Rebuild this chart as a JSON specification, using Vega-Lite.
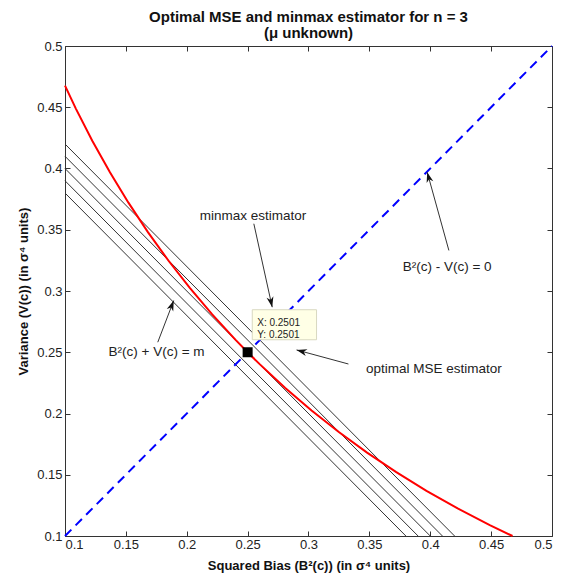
{
  "$schema": "https://vega.github.io/schema/vega-lite/v6.json",
  "width": 487,
  "height": 490,
  "autosize": {"type": "none"},
  "padding": {"left": 65, "top": 46, "right": 26, "bottom": 45},
  "background": "white",
  "title": {
    "text": ["Optimal MSE and minmax estimator for n = 3", "(μ unknown)"],
    "font": "Liberation Sans",
    "fontSize": 15,
    "fontWeight": "bold",
    "color": "#111",
    "anchor": "middle",
    "lineHeight": 16,
    "offset": -1
  },
  "config": {
    "view": {"stroke": "#333", "strokeWidth": 1},
    "axis": {
      "domain": false,
      "grid": false,
      "tickSize": -5,
      "tickColor": "#333",
      "labelFont": "Liberation Sans",
      "labelFontSize": 13,
      "labelColor": "#222",
      "titleFont": "Liberation Sans",
      "titleFontSize": 13,
      "titleFontWeight": "bold",
      "titleColor": "#111"
    }
  },
  "datasets": {
    "lines": [
      {"m": 0.48, "x": 0.1, "y": 0.38}, {"m": 0.48, "x": 0.38, "y": 0.1},
      {"m": 0.49, "x": 0.1, "y": 0.39}, {"m": 0.49, "x": 0.39, "y": 0.1},
      {"m": 0.5, "x": 0.1, "y": 0.4}, {"m": 0.5, "x": 0.4, "y": 0.1},
      {"m": 0.51, "x": 0.1, "y": 0.41}, {"m": 0.51, "x": 0.41, "y": 0.1},
      {"m": 0.52, "x": 0.1, "y": 0.42}, {"m": 0.52, "x": 0.42, "y": 0.1}
    ],
    "curve": [
      {"x": 0.1, "y": 0.4676}, {"x": 0.1089, "y": 0.4489}, {"x": 0.1225, "y": 0.4225},
      {"x": 0.1369, "y": 0.3969}, {"x": 0.1521, "y": 0.3721}, {"x": 0.1681, "y": 0.3481},
      {"x": 0.1849, "y": 0.3249}, {"x": 0.2025, "y": 0.3025}, {"x": 0.2209, "y": 0.2809},
      {"x": 0.2401, "y": 0.2601}, {"x": 0.25, "y": 0.25}, {"x": 0.2601, "y": 0.2401},
      {"x": 0.2809, "y": 0.2209}, {"x": 0.3025, "y": 0.2025}, {"x": 0.3249, "y": 0.1849},
      {"x": 0.3481, "y": 0.1681}, {"x": 0.3721, "y": 0.1521}, {"x": 0.3969, "y": 0.1369},
      {"x": 0.4225, "y": 0.1225}, {"x": 0.4489, "y": 0.1089}, {"x": 0.4676, "y": 0.1}
    ],
    "diag": [{"x": 0.1, "y": 0.1}, {"x": 0.5, "y": 0.5}],
    "arrows": [
      {"x": 0.2551, "y": 0.3549, "x2": 0.2702, "y2": 0.2868},
      {"x": 0.1762, "y": 0.2582, "x2": 0.1893, "y2": 0.2922},
      {"x": 0.4153, "y": 0.3331, "x2": 0.3975, "y2": 0.397},
      {"x": 0.3328, "y": 0.2404, "x2": 0.2902, "y2": 0.2519}
    ],
    "labels": [
      {"x": 0.2544, "y": 0.3616, "text": "minmax estimator"},
      {"x": 0.1752, "y": 0.2498, "text": "B²(c) + V(c) = m"},
      {"x": 0.4139, "y": 0.32, "text": "B²(c) - V(c) = 0"},
      {"x": 0.4029, "y": 0.2367, "text": "optimal MSE estimator"}
    ],
    "tipbox": [{"x": 0.2538, "x2": 0.3066, "y": 0.2847, "y2": 0.2602}],
    "tiptext": [
      {"x": 0.2579, "y": 0.2739, "text": "X: 0.2501"},
      {"x": 0.2579, "y": 0.2644, "text": "Y: 0.2501"}
    ],
    "point": [{"x": 0.25, "y": 0.25}]
  },
  "resolve": {"axis": {"x": "independent", "y": "independent"}},
  "layer": [
    {
      "data": {"name": "lines"},
      "mark": {"type": "line", "color": "#333", "strokeWidth": 1},
      "encoding": {
        "x": {"field": "x", "type": "quantitative", "scale": {"domain": [0.1, 0.5], "nice": false, "zero": false},
              "axis": {"orient": "bottom", "title": "Squared Bias (B²(c)) (in σ⁴ units)", "labelPadding": 7, "titlePadding": 8, "format": "~g",
                       "values": [0.1, 0.15, 0.2, 0.25, 0.3, 0.35, 0.4, 0.45, 0.5]}},
        "y": {"field": "y", "type": "quantitative", "scale": {"domain": [0.1, 0.5], "nice": false, "zero": false},
              "axis": {"orient": "left", "title": "Variance (V(c)) (in σ⁴ units)", "labelPadding": 8, "titlePadding": 6, "format": "~g",
                       "values": [0.1, 0.15, 0.2, 0.25, 0.3, 0.35, 0.4, 0.45, 0.5]}},
        "detail": {"field": "m", "type": "nominal"}
      }
    },
    {
      "data": {"name": "curve"},
      "mark": {"type": "line", "color": "#ff0000", "strokeWidth": 2},
      "encoding": {
        "x": {"field": "x", "type": "quantitative", "scale": {"domain": [0.1, 0.5], "nice": false, "zero": false}, "axis": null},
        "y": {"field": "y", "type": "quantitative", "scale": {"domain": [0.1, 0.5], "nice": false, "zero": false}, "axis": null}
      }
    },
    {
      "data": {"name": "diag"},
      "mark": {"type": "line", "color": "#0000ff", "strokeWidth": 2, "strokeDash": [9, 6]},
      "encoding": {
        "x": {"field": "x", "type": "quantitative", "scale": {"domain": [0.1, 0.5], "nice": false, "zero": false},
              "axis": {"orient": "top", "labels": false, "title": null, "values": [0.1, 0.15, 0.2, 0.25, 0.3, 0.35, 0.4, 0.45, 0.5]}},
        "y": {"field": "y", "type": "quantitative", "scale": {"domain": [0.1, 0.5], "nice": false, "zero": false},
              "axis": {"orient": "right", "labels": false, "title": null, "values": [0.1, 0.15, 0.2, 0.25, 0.3, 0.35, 0.4, 0.45, 0.5]}}
      }
    },
    {
      "data": {"name": "arrows"},
      "mark": {"type": "rule", "color": "#333", "strokeWidth": 1},
      "encoding": {
        "x": {"field": "x", "type": "quantitative", "scale": {"domain": [0.1, 0.5], "nice": false, "zero": false}, "axis": null},
        "y": {"field": "y", "type": "quantitative", "scale": {"domain": [0.1, 0.5], "nice": false, "zero": false}, "axis": null},
        "x2": {"field": "x2"},
        "y2": {"field": "y2"}
      }
    },
    {
      "data": {"values": [{"x": 0.2702, "y": 0.2868}]},
      "mark": {"type": "point", "shape": "M0,0L-0.4,1.2L0,0.85L0.4,1.2Z", "filled": true, "color": "#111", "opacity": 1, "size": 300, "angle": 167.6},
      "encoding": {
        "x": {"field": "x", "type": "quantitative", "scale": {"domain": [0.1, 0.5], "nice": false, "zero": false}, "axis": null},
        "y": {"field": "y", "type": "quantitative", "scale": {"domain": [0.1, 0.5], "nice": false, "zero": false}, "axis": null}
      }
    },
    {
      "data": {"values": [{"x": 0.1893, "y": 0.2922}]},
      "mark": {"type": "point", "shape": "M0,0L-0.4,1.2L0,0.85L0.4,1.2Z", "filled": true, "color": "#111", "opacity": 1, "size": 300, "angle": 21},
      "encoding": {
        "x": {"field": "x", "type": "quantitative", "scale": {"domain": [0.1, 0.5], "nice": false, "zero": false}, "axis": null},
        "y": {"field": "y", "type": "quantitative", "scale": {"domain": [0.1, 0.5], "nice": false, "zero": false}, "axis": null}
      }
    },
    {
      "data": {"values": [{"x": 0.3975, "y": 0.397}]},
      "mark": {"type": "point", "shape": "M0,0L-0.4,1.2L0,0.85L0.4,1.2Z", "filled": true, "color": "#111", "opacity": 1, "size": 300, "angle": -15.4},
      "encoding": {
        "x": {"field": "x", "type": "quantitative", "scale": {"domain": [0.1, 0.5], "nice": false, "zero": false}, "axis": null},
        "y": {"field": "y", "type": "quantitative", "scale": {"domain": [0.1, 0.5], "nice": false, "zero": false}, "axis": null}
      }
    },
    {
      "data": {"values": [{"x": 0.2902, "y": 0.2519}]},
      "mark": {"type": "point", "shape": "M0,0L-0.4,1.2L0,0.85L0.4,1.2Z", "filled": true, "color": "#111", "opacity": 1, "size": 300, "angle": -74.8},
      "encoding": {
        "x": {"field": "x", "type": "quantitative", "scale": {"domain": [0.1, 0.5], "nice": false, "zero": false}, "axis": null},
        "y": {"field": "y", "type": "quantitative", "scale": {"domain": [0.1, 0.5], "nice": false, "zero": false}, "axis": null}
      }
    },
    {
      "data": {"name": "labels"},
      "mark": {"type": "text", "font": "Liberation Sans", "fontSize": 13.5, "color": "#222", "align": "center", "baseline": "middle"},
      "encoding": {
        "x": {"field": "x", "type": "quantitative", "scale": {"domain": [0.1, 0.5], "nice": false, "zero": false}, "axis": null},
        "y": {"field": "y", "type": "quantitative", "scale": {"domain": [0.1, 0.5], "nice": false, "zero": false}, "axis": null},
        "text": {"field": "text"}
      }
    },
    {
      "data": {"name": "tipbox"},
      "mark": {"type": "rect", "fill": "#ffffe6", "stroke": "#d8d8c0", "strokeWidth": 1},
      "encoding": {
        "x": {"field": "x", "type": "quantitative", "scale": {"domain": [0.1, 0.5], "nice": false, "zero": false}, "axis": null},
        "y": {"field": "y", "type": "quantitative", "scale": {"domain": [0.1, 0.5], "nice": false, "zero": false}, "axis": null},
        "x2": {"field": "x2"},
        "y2": {"field": "y2"}
      }
    },
    {
      "data": {"name": "tiptext"},
      "mark": {"type": "text", "font": "Liberation Sans", "fontSize": 10, "color": "#222", "align": "left", "baseline": "middle"},
      "encoding": {
        "x": {"field": "x", "type": "quantitative", "scale": {"domain": [0.1, 0.5], "nice": false, "zero": false}, "axis": null},
        "y": {"field": "y", "type": "quantitative", "scale": {"domain": [0.1, 0.5], "nice": false, "zero": false}, "axis": null},
        "text": {"field": "text"}
      }
    },
    {
      "data": {"name": "point"},
      "mark": {"type": "square", "color": "#000", "opacity": 1, "size": 100},
      "encoding": {
        "x": {"field": "x", "type": "quantitative", "scale": {"domain": [0.1, 0.5], "nice": false, "zero": false}, "axis": null},
        "y": {"field": "y", "type": "quantitative", "scale": {"domain": [0.1, 0.5], "nice": false, "zero": false}, "axis": null}
      }
    }
  ]
}
